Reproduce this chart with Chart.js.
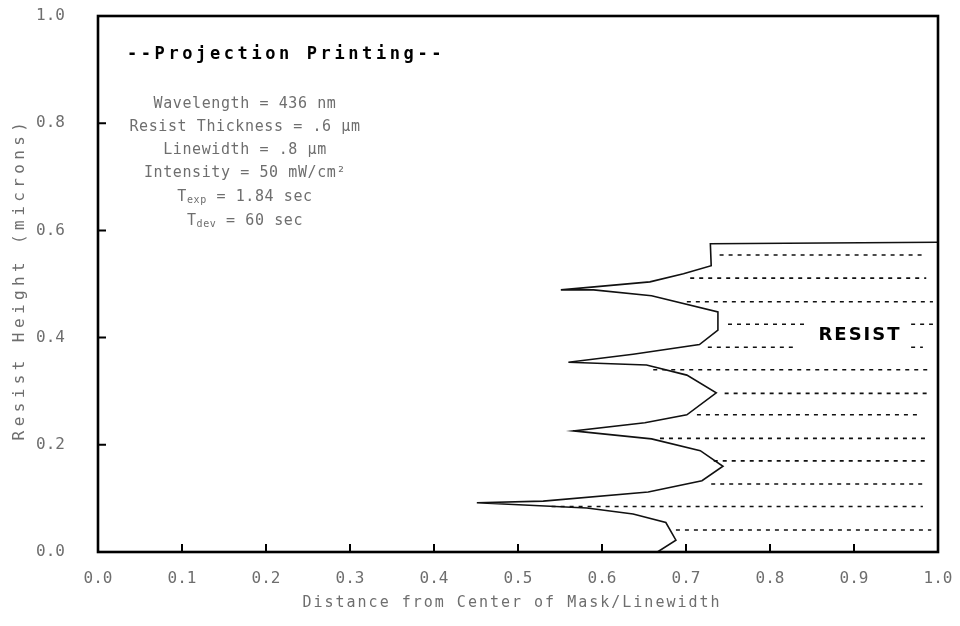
<!DOCTYPE html>
<html lang="en">
<head>
    <meta charset="UTF-8">
    <title>Projection Printing - Resist Profile</title>
    <script src="https://cdn.jsdelivr.net/npm/chart.js"></script>
    <style>
        html, body {
            margin: 0;
            padding: 0;
            background-color: white;
        }
        .chart-container {
            width: 960px;
            height: 626px;
            position: relative;
        }
    </style>
</head>
<body>
    <div class="chart-container">
        <canvas id="profileChart"></canvas>
    </div>

    <script>
        const profileX = [0.666, 0.688, 0.676, 0.637, 0.582, 0.451, 0.530, 0.655, 0.719, 0.744,
                          0.717, 0.659, 0.566, 0.651, 0.701, 0.736, 0.701, 0.653, 0.560, 0.637,
                          0.716, 0.738, 0.738, 0.659, 0.590, 0.551, 0.657, 0.697, 0.730, 0.729, 1.000];
        const profileY = [0.000, 0.022, 0.055, 0.071, 0.082, 0.092, 0.095, 0.112, 0.133, 0.160,
                          0.189, 0.211, 0.226, 0.241, 0.256, 0.297, 0.330, 0.349, 0.354, 0.369,
                          0.387, 0.414, 0.448, 0.478, 0.489, 0.489, 0.504, 0.519, 0.534, 0.575, 0.578];

        // dashed hatching inside the resist (one entry per segment)
        const hatchY     = [0.554, 0.511, 0.467, 0.425, 0.425, 0.382, 0.382, 0.340, 0.296, 0.256, 0.212, 0.170, 0.127, 0.085, 0.041];
        const hatchStart = [0.740, 0.705, 0.701, 0.750, 0.968, 0.726, 0.968, 0.661, 0.746, 0.713, 0.669, 0.733, 0.730, 0.540, 0.688];
        const hatchEnd   = [0.985, 0.986, 0.994, 0.844, 0.994, 0.832, 0.982, 0.990, 0.990, 0.980, 0.990, 0.986, 0.985, 0.982, 0.992];

        const xTicks = [0.1, 0.2, 0.3, 0.4, 0.5, 0.6, 0.7, 0.8, 0.9];
        const yTicks = [0.2, 0.4, 0.6, 0.8];

        const xTitle = 'Distance from Center of Mask/Linewidth';
        const yTitle = 'Resist Height (microns)';
        const headerText = '--Projection Printing--';
        const resistLabel = 'RESIST';
        // [text, isSubscript]
        const paramLines = [
            [['Wavelength = 436 nm', false]],
            [['Resist Thickness = .6 µm', false]],
            [['Linewidth = .8 µm', false]],
            [['Intensity = 50 mW/cm²', false]],
            [['T', false], ['exp', true], [' = 1.84 sec', false]],
            [['T', false], ['dev', true], [' = 60 sec', false]]
        ];

        const MONO = "'DejaVu Sans Mono', monospace";
        const GREY = '#6e6e6e';

        const datasets = [{
            label: 'profile',
            data: profileX.map((x, i) => ({ x: x, y: profileY[i] })),
            showLine: true,
            borderColor: '#111',
            borderWidth: 1.6,
            pointRadius: 0,
            tension: 0
        }];
        hatchY.forEach((y, i) => {
            datasets.push({
                label: 'hatch' + i,
                data: [{ x: hatchStart[i], y: y }, { x: hatchEnd[i], y: y }],
                showLine: true,
                borderColor: '#111',
                borderWidth: 1.6,
                borderDash: [4, 5],
                pointRadius: 0
            });
        });

        function drawSpaced(ctx, text, x, y, spacing) {
            ctx.letterSpacing = spacing + 'px';
            ctx.fillText(text, x, y);
            ctx.letterSpacing = '0px';
        }

        const decorPlugin = {
            id: 'decor',
            afterDraw(chart) {
                const ctx = chart.ctx;
                const area = chart.chartArea;
                const xs = chart.scales.x;
                const ys = chart.scales.y;
                ctx.save();

                // frame
                ctx.strokeStyle = '#000';
                ctx.lineWidth = 2.6;
                ctx.strokeRect(area.left, area.top, area.right - area.left, area.bottom - area.top);

                // inward tick marks
                ctx.lineWidth = 2;
                ctx.beginPath();
                xTicks.forEach(v => {
                    const px = xs.getPixelForValue(v);
                    ctx.moveTo(px, area.bottom);
                    ctx.lineTo(px, area.bottom - 8);
                });
                yTicks.forEach(v => {
                    const py = ys.getPixelForValue(v);
                    ctx.moveTo(area.left, py);
                    ctx.lineTo(area.left + 8, py);
                });
                ctx.stroke();

                ctx.textBaseline = 'middle';
                ctx.textAlign = 'center';

                // header
                ctx.fillStyle = '#000';
                ctx.font = 'bold 17px ' + MONO;
                drawSpaced(ctx, headerText, 286, 55, 3.6);

                // parameter block
                const lineY = [104, 127, 150, 173, 197, 221];
                ctx.fillStyle = GREY;
                paramLines.forEach((parts, li) => {
                    const widths = parts.map(p => {
                        ctx.font = (p[1] ? '10px ' : '15px ') + MONO;
                        ctx.letterSpacing = '0.6px';
                        const w = ctx.measureText(p[0]).width;
                        ctx.letterSpacing = '0px';
                        return w;
                    });
                    const total = widths.reduce((a, b) => a + b, 0);
                    let x = 245 - total / 2;
                    ctx.textAlign = 'left';
                    parts.forEach((p, i) => {
                        ctx.font = (p[1] ? '10px ' : '15px ') + MONO;
                        drawSpaced(ctx, p[0], x, lineY[li] + (p[1] ? 3 : 0), 0.6);
                        x += widths[i];
                    });
                    ctx.textAlign = 'center';
                });

                // resist label
                ctx.fillStyle = '#000';
                ctx.font = "bold 18px 'DejaVu Sans', sans-serif";
                drawSpaced(ctx, resistLabel, 860, 335, 2);

                // axis titles
                ctx.fillStyle = GREY;
                ctx.font = '15px ' + MONO;
                drawSpaced(ctx, xTitle, 512, 603, 2);
                ctx.font = '16px ' + MONO;
                ctx.translate(20, 279);
                ctx.rotate(-Math.PI / 2);
                drawSpaced(ctx, yTitle, 0, 0, 4.4);

                ctx.restore();
            }
        };

        new Chart(document.getElementById('profileChart').getContext('2d'), {
            type: 'scatter',
            data: { datasets: datasets },
            options: {
                responsive: true,
                maintainAspectRatio: false,
                animation: false,
                layout: { padding: { top: 16, right: 22, left: 0, bottom: 0 } },
                scales: {
                    x: {
                        type: 'linear',
                        min: 0,
                        max: 1,
                        // transparent tick marks only push the labels away from the axis
                        grid: { display: true, color: 'transparent', drawTicks: true, tickLength: 13, tickColor: 'transparent' },
                        border: { display: false },
                        ticks: {
                            stepSize: 0.1,
                            padding: 4,
                            color: GREY,
                            font: { family: MONO, size: 16 },
                            callback: v => v.toFixed(1)
                        },
                        afterFit: scale => { scale.height = 74; }
                    },
                    y: {
                        type: 'linear',
                        min: 0,
                        max: 1,
                        grid: { display: true, color: 'transparent', drawTicks: true, tickLength: 29, tickColor: 'transparent' },
                        border: { display: false },
                        ticks: {
                            stepSize: 0.2,
                            padding: 4,
                            color: GREY,
                            font: { family: MONO, size: 16 },
                            callback: v => v.toFixed(1)
                        },
                        afterFit: scale => { scale.width = 98; }
                    }
                },
                plugins: {
                    legend: { display: false },
                    tooltip: { enabled: false }
                }
            },
            plugins: [decorPlugin]
        });
    </script>
</body>
</html>
